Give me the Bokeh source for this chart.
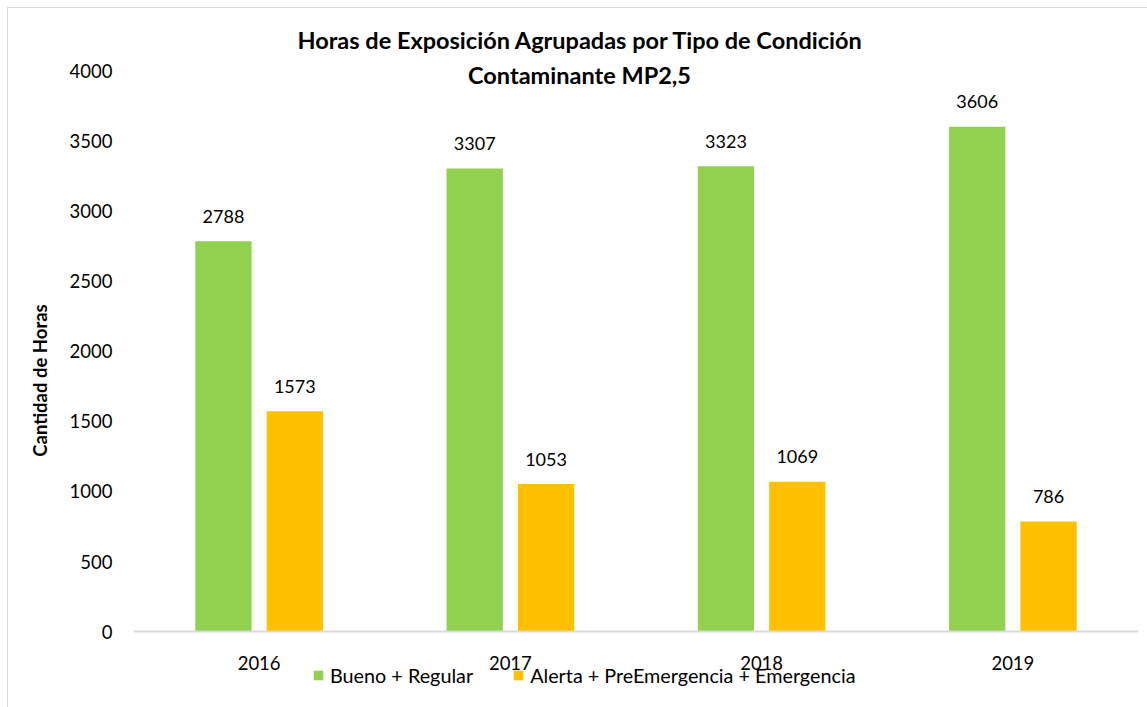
from bokeh.plotting import figure
from bokeh.models import FactorRange, Label, Legend, LegendItem, ColumnDataSource, Title
from bokeh.core.properties import value
from bokeh.transform import dodge
from bokeh.embed import file_html
from bokeh.resources import INLINE

years = ["2016", "2017", "2018", "2019"]
bueno = [2788, 3307, 3323, 3606]
alerta = [1573, 1053, 1069, 786]
series_names = ["Bueno + Regular", "Alerta + PreEmergencia + Emergencia"]
title_lines = ["Horas de Exposición Agrupadas por Tipo de Condición", "Contaminante MP2,5"]
y_label = "Cantidad de Horas"
y_ticks = [0, 500, 1000, 1500, 2000, 2500, 3000, 3500, 4000]

FONT = "Lato"
GREEN = "#92D050"
ORANGE = "#FFC000"

src = ColumnDataSource(dict(years=years, bueno=bueno, alerta=alerta,
                            bueno_t=[str(v) for v in bueno], alerta_t=[str(v) for v in alerta]))

p = figure(x_range=FactorRange(*years), y_range=(-542.857, 4128.57), width=1139, height=699,
           output_backend="svg", toolbar_location=None, margin=(8, 0, 0, 8),
           min_border_left=125, min_border_right=9, min_border_top=45, min_border_bottom=0)
p.styles = {"outline": "1px solid #d9d9d9"}
p.outline_line_color = None
p.xgrid.grid_line_color = None
p.ygrid.grid_line_color = None

r1 = p.vbar(x=dodge("years", -0.142, range=p.x_range), top="bueno", width=0.224, source=src,
            fill_color=GREEN, line_color=None)
r2 = p.vbar(x=dodge("years", 0.142, range=p.x_range), top="alerta", width=0.224, source=src,
            fill_color=ORANGE, line_color=None)

for col, off in (("bueno", -0.142), ("alerta", 0.142)):
    p.text(x=dodge("years", off, range=p.x_range), y=col, text=col + "_t", source=src,
           text_align="center", text_baseline="middle", y_offset=-25,
           text_font=value(FONT), text_font_size="18px", text_color="#000000")

p.yaxis.ticker = y_ticks
p.yaxis.axis_line_color = None
p.yaxis.major_tick_line_color = None
p.yaxis.minor_tick_line_color = None
p.yaxis.major_label_standoff = 15
p.yaxis.major_label_text_font = FONT
p.yaxis.major_label_text_font_size = "18.5px"
p.yaxis.major_label_text_color = "#000000"
p.yaxis.axis_label = y_label
p.yaxis.axis_label_text_font = FONT
p.yaxis.axis_label_text_font_size = "18.5px"
p.yaxis.axis_label_text_font_style = "bold"
p.yaxis.axis_label_text_color = "#000000"
p.yaxis.axis_label_standoff = 16

p.xaxis.fixed_location = 0
p.xaxis.axis_line_color = "#d9d9d9"
p.xaxis.axis_line_width = 2
p.xaxis.major_tick_line_color = None
p.xaxis.minor_tick_line_color = None
p.xaxis.major_label_standoff = 18
p.xaxis.major_label_text_font = FONT
p.xaxis.major_label_text_font_size = "18.5px"
p.xaxis.major_label_text_color = "#000000"

p.add_layout(Title(text=title_lines[0], align="left", offset=164, standoff=0,
                   text_font=FONT, text_font_size="23.5px", text_font_style="bold",
                   text_color="#000000"), "above")
p.add_layout(Label(x=446, y=633, x_units="screen", y_units="screen", text=title_lines[1],
                   text_align="center", text_baseline="middle", text_font=FONT,
                   text_font_size="23.5px", text_font_style="bold", text_color="#000000"))

legend = Legend(items=[LegendItem(label=series_names[0], renderers=[r1]),
                       LegendItem(label=series_names[1], renderers=[r2])],
                orientation="horizontal", location=(179, 20),
                border_line_color=None, background_fill_alpha=0,
                padding=0, margin=0, spacing=39, label_standoff=6,
                glyph_width=12, glyph_height=12,
                label_text_font=FONT, label_text_font_size="19.8px", label_text_color="#000000")
p.add_layout(legend, "center")

open("out.html", "w").write(file_html(p, INLINE))
